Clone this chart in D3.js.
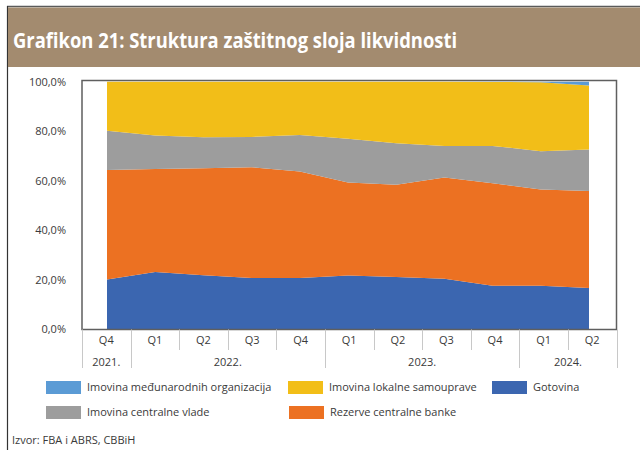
<!DOCTYPE html>
<meta charset="utf-8">
<head>
	<script src="https://cdn.jsdelivr.net/npm/d3@7/dist/d3.min.js"></script>
	<style>
		body { margin: 0; background: #fff; }
		svg { display: block; font-family: "Open Sans", sans-serif; }
		.lab { font-size: 11px; fill: #3a3a3a; }
	</style>
</head>
<body>
	<div id="chart"></div>
</body>
<script type="text/javascript">
	// quarters on the x axis (Q4 2021 .. Q2 2024)
	var quarters = ["Q4", "Q1", "Q2", "Q3", "Q4", "Q1", "Q2", "Q3", "Q4", "Q1", "Q2"];
	var years = [
		{label: "2021.", n: 1},
		{label: "2022.", n: 4},
		{label: "2023.", n: 4},
		{label: "2024.", n: 2}
	];

	// shares in %, bottom of the stack first
	var gotovina      = [20.2, 23.2, 21.9, 20.8, 20.8, 21.8, 21.2, 20.5, 17.7, 17.7, 16.7];
	var rezerveCB     = [44.2, 41.6, 43.2, 44.7, 43.0, 37.5, 37.2, 40.8, 41.3, 38.8, 39.2];
	var centralnaVlada = [15.8, 13.5, 12.5, 12.2, 14.7, 17.7, 16.8, 12.8, 15.1, 15.4, 16.7];
	var lokalnaSamoup = [19.8, 21.7, 22.4, 22.3, 21.5, 23.0, 24.8, 25.9, 25.8, 27.9, 25.9];
	var medjunarodne  = [0, 0, 0, 0, 0, 0, 0, 0, 0.1, 0.2, 1.5];

	var yTicks = [0, 20, 40, 60, 80, 100];

	var series = [
		{key: "gotovina", name: "Gotovina", values: gotovina, color: "#3B66B0"},
		{key: "rezerve", name: "Rezerve centralne banke", values: rezerveCB, color: "#EC7122"},
		{key: "vlada", name: "Imovina centralne vlade", values: centralnaVlada, color: "#9D9D9D"},
		{key: "lokalna", name: "Imovina lokalne samouprave", values: lokalnaSamoup, color: "#F2BE18"},
		{key: "medj", name: "Imovina međunarodnih organizacija", values: medjunarodne, color: "#5B9BD5"}
	];

	var W = 640, H = 450;
	var plot = {left: 82, right: 616.5, top: 80.5, bottom: 329.5};

	var svg = d3.select("#chart").append("svg")
		.attr("width", W)
		.attr("height", H);

	svg.append("rect").attr("width", W).attr("height", H).attr("fill", "#fff");

	// outer frame pieces + title banner
	svg.append("line")
		.attr("x1", 7).attr("x2", W).attr("y1", 6.5).attr("y2", 6.5)
		.attr("stroke", "#5a5a5a").attr("stroke-width", 1.5);
	svg.append("line")
		.attr("x1", 7.5).attr("x2", 7.5).attr("y1", 6).attr("y2", H)
		.attr("stroke", "#333").attr("stroke-width", 1.2);
	svg.append("rect")
		.attr("x", 8).attr("y", 7.5).attr("width", W - 8).attr("height", 59.5)
		.attr("fill", "#A38B6F");
	svg.append("text")
		.attr("x", 13).attr("y", 48)
		.attr("fill", "#fff")
		.style("font-size", "21px")
		.style("font-weight", "bold")
		.attr("textLength", 444)
		.attr("lengthAdjust", "spacingAndGlyphs")
		.text("Grafikon 21: Struktura zaštitnog sloja likvidnosti");

	var idx = d3.range(quarters.length);

	var x = d3.scalePoint()
		.domain(idx)
		.range([107, 589]);

	var xBand = d3.scaleBand()
		.domain(idx)
		.range([plot.left, plot.right]);

	var y = d3.scaleLinear()
		.domain([0, 100])
		.range([329.5, 81.7]);

	var table = idx.map(function(i) {
		var row = {i: i};
		series.forEach(function(s) { row[s.key] = s.values[i]; });
		return row;
	});

	var stack = d3.stack().keys(series.map(function(s) { return s.key; }));
	var layers = stack(table);

	var area = d3.area()
		.x(function(d) { return x(d.data.i); })
		.y0(function(d) { return y(d[0]); })
		.y1(function(d) { return y(d[1]); });

	svg.append("g")
		.selectAll("path")
		.data(layers)
		.enter().append("path")
		.attr("d", area)
		.attr("fill", function(d, i) { return series[i].color; });

	// plot frame
	svg.append("rect")
		.attr("x", plot.left).attr("y", plot.top)
		.attr("width", plot.right - plot.left)
		.attr("height", plot.bottom - plot.top)
		.attr("fill", "none")
		.attr("stroke", "#5f5f5f")
		.attr("stroke-width", 1.5);

	// y labels
	var fmt = d3.formatLocale({decimal: ",", thousands: ".", grouping: [3], currency: ["", ""]}).format(".1f");
	svg.append("g")
		.selectAll("text")
		.data(yTicks)
		.enter().append("text")
		.attr("class", "lab")
		.attr("x", 66)
		.attr("y", function(d) { return y(d); })
		.attr("dy", "0.35em")
		.attr("text-anchor", "end")
		.text(function(d) { return fmt(d) + "%"; });

	// x axis: quarter row, year row
	var xg = svg.append("g");
	var yearStart = [];
	var acc = 0;
	years.forEach(function(yy) { yearStart.push(acc); acc += yy.n; });

	idx.concat([quarters.length]).forEach(function(i) {
		var xp = i < quarters.length ? xBand(i) : plot.right;
		var isYear = yearStart.indexOf(i) >= 0 || i === quarters.length;
		xg.append("line")
			.attr("x1", Math.round(xp) + 0.5).attr("x2", Math.round(xp) + 0.5)
			.attr("y1", plot.bottom)
			.attr("y2", isYear ? 368 : 350)
			.attr("stroke", "#c8c8c8")
			.attr("stroke-width", 1);
	});

	xg.selectAll(".q")
		.data(idx)
		.enter().append("text")
		.attr("class", "lab")
		.attr("x", function(i) { return xBand(i) + xBand.bandwidth() / 2; })
		.attr("y", 340)
		.attr("dy", "0.35em")
		.attr("text-anchor", "middle")
		.text(function(i) { return quarters[i]; });

	xg.selectAll(".yr")
		.data(years)
		.enter().append("text")
		.attr("class", "lab")
		.attr("x", function(d, k) {
			var a = xBand(yearStart[k]);
			return a + d.n * xBand.bandwidth() / 2;
		})
		.attr("y", 362)
		.attr("dy", "0.35em")
		.attr("text-anchor", "middle")
		.text(function(d) { return d.label; });

	// legend
	var legendItems = [
		{s: series[4], x: 46, y: 381},
		{s: series[3], x: 288, y: 381},
		{s: series[0], x: 492, y: 381},
		{s: series[2], x: 46, y: 406},
		{s: series[1], x: 289, y: 406}
	];
	var lg = svg.append("g")
		.selectAll("g")
		.data(legendItems)
		.enter().append("g")
		.attr("transform", function(d) { return "translate(" + d.x + "," + d.y + ")"; });
	lg.append("rect")
		.attr("width", 35).attr("height", 13)
		.attr("fill", function(d) { return d.s.color; });
	lg.append("text")
		.attr("class", "lab")
		.attr("x", 41).attr("y", 6.5)
		.attr("dy", "0.35em")
		.text(function(d) { return d.s.name; });

	svg.append("text")
		.attr("class", "lab")
		.attr("x", 12).attr("y", 440)
		.attr("dy", "0.35em")
		.text("Izvor: FBA i ABRS, CBBiH");
</script>
